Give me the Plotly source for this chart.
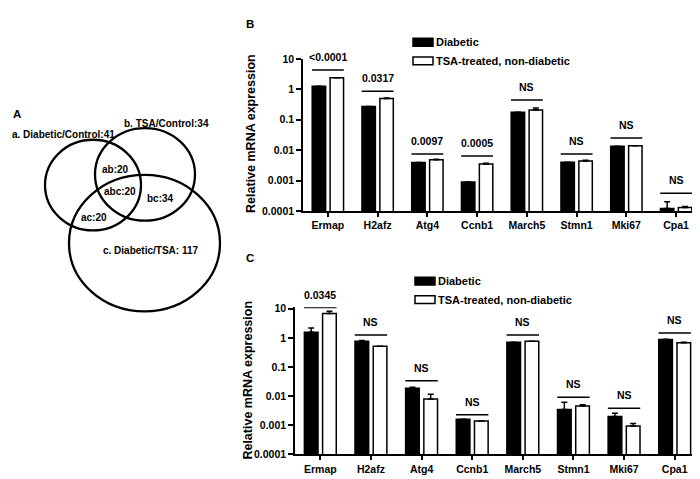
import numpy as np
import plotly.graph_objects as go

# ---------------- data ----------------
genes = ["Ermap", "H2afz", "Atg4", "Ccnb1", "March5", "Stmn1", "Mki67", "Cpa1"]
series_names = ["Diabetic", "TSA-treated, non-diabetic"]

b_diabetic = [1.25, 0.27, 0.0039, 0.0009, 0.175, 0.004, 0.0134, 0.00012]
b_diabetic_err = [0, 0, 0, 0, 0, 0, 0, 0.00008]
b_tsa = [2.4, 0.5, 0.0048, 0.0035, 0.21, 0.0044, 0.014, 0.00013]
b_tsa_err = [0, 0.02, 0.0002, 0.0002, 0.03, 0.0002, 0, 0.00001]
b_sig = ["<0.0001", "0.0317", "0.0097", "0.0005", "NS", "NS", "NS", "NS"]
b_sig_level = [4.3, 0.86, 0.0074, 0.0064, 0.44, 0.0074, 0.0248, 0.00038]

c_diabetic = [1.55, 0.77, 0.0186, 0.0016, 0.71, 0.0035, 0.002, 0.88]
c_diabetic_err = [0.65, 0.04, 0.0015, 0, 0, 0.0027, 0.0006, 0.02]
c_tsa = [6.9, 0.52, 0.0079, 0.0014, 0.77, 0.0046, 0.00095, 0.68]
c_tsa_err = [1.3, 0, 0.0038, 0, 0, 0.0005, 0.0002, 0.02]
c_sig = ["0.0345", "NS", "NS", "NS", "NS", "NS", "NS", "NS"]
c_sig_level = [11, 1.26, 0.034, 0.0023, 1.26, 0.0091, 0.0038, 1.47]

y_tickvals = [0.0001, 0.001, 0.01, 0.1, 1, 10]
y_ticktext = ["0.0001", "0.001", "0.01", "0.1", "1", "10"]

venn_sets = ["a. Diabetic/Control", "b. TSA/Control", "c. Diabetic/TSA"]
venn_set_counts = [41, 34, 117]
venn_regions = ["ab", "abc", "bc", "ac"]
venn_region_counts = [20, 20, 34, 20]

# ---------------- helpers ----------------
W, H = 700, 479
FONT = "Liberation Sans, Arial, sans-serif"


def px(x):
    return x / W


def py(y):
    return 1 - y / H


fig = go.Figure()
shapes = []
annotations = []

panels = [
    dict(xa="x", ya="y", d=b_diabetic, de=b_diabetic_err, t=b_tsa, te=b_tsa_err,
         sig=b_sig, lvl=b_sig_level),
    dict(xa="x2", ya="y2", d=c_diabetic, de=c_diabetic_err, t=c_tsa, te=c_tsa_err,
         sig=c_sig, lvl=c_sig_level),
]

xpos = list(range(len(genes)))
for p in panels:
    fig.add_trace(go.Bar(
        x=xpos, y=p["d"], name=series_names[0], xaxis=p["xa"], yaxis=p["ya"],
        marker=dict(color="black", line=dict(color="black", width=1.5)),
        error_y=dict(type="data", symmetric=False, array=p["de"],
                     arrayminus=[0] * len(genes), color="black", thickness=1.5, width=3),
        showlegend=False,
    ))
    fig.add_trace(go.Bar(
        x=xpos, y=p["t"], name=series_names[1], xaxis=p["xa"], yaxis=p["ya"],
        marker=dict(color="white", line=dict(color="black", width=1.5)),
        error_y=dict(type="data", symmetric=False, array=p["te"],
                     arrayminus=[0] * len(genes), color="black", thickness=1.5, width=3),
        showlegend=False,
    ))
    # significance lines and labels
    for i, g in enumerate(genes):
        lvl = p["lvl"][i]
        fig.add_trace(go.Scatter(
            x=[i - 0.32, i + 0.32], y=[lvl, lvl], mode="lines",
            line=dict(color="black", width=1.5), xaxis=p["xa"], yaxis=p["ya"],
            showlegend=False, hoverinfo="skip",
        ))
        annotations.append(dict(
            x=i, y=np.log10(lvl), xref=p["xa"], yref=p["ya"], text=p["sig"][i],
            showarrow=False, yanchor="bottom", yshift=5,
            font=dict(family=FONT, size=10.5, color="black", weight="bold"),
        ))

axis_common = dict(showline=True, linecolor="black", linewidth=1.5, ticks="outside",
                   tickwidth=1.5, tickcolor="black", showgrid=False, zeroline=False,
                   tickfont=dict(family=FONT, size=10.5, color="black", weight="bold"))

c_top = 1.05  # small headroom so the Ermap line in panel C stays visible
fig.update_layout(
    width=W, height=H, margin=dict(l=0, r=0, t=0, b=0),
    paper_bgcolor="white", plot_bgcolor="white",
    barmode="group", bargap=0.28, bargroupgap=0.25,
    font=dict(family=FONT, color="black"),
    xaxis=dict(domain=[px(295), px(693)], anchor="y", range=[-0.5, 7.5],
               tickvals=xpos, ticktext=genes, ticklen=4, **axis_common),
    yaxis=dict(domain=[py(202), py(46)], anchor="x", type="log", range=[-4, 1],
               tickvals=y_tickvals, ticktext=y_ticktext, ticklen=5, **axis_common),
    xaxis2=dict(domain=[px(287), px(692)], anchor="y2", range=[-0.5, 7.5],
                tickvals=xpos, ticktext=genes, ticklen=4, **axis_common),
    yaxis2=dict(domain=[py(451.7), py(302.3 - (c_top - 1) * 29.9)], anchor="x2",
                type="log", range=[-4, c_top],
                tickvals=y_tickvals, ticktext=y_ticktext, ticklen=5, **axis_common),
)

# y-axis titles
for (x, y) in [(243, 123), (240, 376)]:
    annotations.append(dict(
        x=px(x), y=py(y), xref="paper", yref="paper", text="Relative mRNA expression",
        textangle=-90, showarrow=False, xanchor="center", yanchor="middle",
        font=dict(family=FONT, size=12.5, color="black", weight="bold"),
    ))

# custom legends
for (lx, ly) in [(405, 25), (407, 270)]:
    for k, (fill, name) in enumerate(zip(["black", "white"], series_names)):
        y0 = ly + k * 19
        shapes.append(dict(type="rect", xref="paper", yref="paper",
                           x0=px(lx), x1=px(lx + 20), y0=py(y0 + 8), y1=py(y0),
                           fillcolor=fill, line=dict(color="black", width=1.5)))
        annotations.append(dict(
            x=px(lx + 21), y=py(y0 + 4), xref="paper", yref="paper", text=name,
            showarrow=False, xanchor="left", yanchor="middle",
            font=dict(family=FONT, size=11, color="black", weight="bold"),
        ))

# panel letters
for letter, (x, y) in zip(["A", "B", "C"], [(9, 103), (242, 10), (242, 250)]):
    annotations.append(dict(
        x=px(x), y=py(y), xref="paper", yref="paper", text=letter, showarrow=False,
        xanchor="center", yanchor="middle",
        font=dict(family=FONT, size=11.5, color="black", weight="bold"),
    ))

# Venn diagram
venn_circles = [(37, 129, 133, 222), (87, 117, 187, 212), (61, 165, 212, 305)]
for (x0, y0, x1, y1) in venn_circles:
    shapes.append(dict(type="circle", xref="paper", yref="paper",
                       x0=px(x0), x1=px(x1), y0=py(y1), y1=py(y0),
                       line=dict(color="black", width=2.3)))
set_pos = [(55, 124), (158, 112), (142, 243)]
set_sep = [":", ":", ": "]
for name, cnt, sep, (x, y) in zip(venn_sets, venn_set_counts, set_sep, set_pos):
    annotations.append(dict(
        x=px(x), y=py(y), xref="paper", yref="paper", text=f"{name}{sep}{cnt}",
        showarrow=False, xanchor="center", yanchor="middle",
        font=dict(family=FONT, size=10, color="black", weight="bold"),
    ))
region_pos = [(107, 159), (112, 182), (152, 189), (86, 209)]
for name, cnt, (x, y) in zip(venn_regions, venn_region_counts, region_pos):
    annotations.append(dict(
        x=px(x), y=py(y), xref="paper", yref="paper", text=f"{name}:{cnt}",
        showarrow=False, xanchor="center", yanchor="middle",
        font=dict(family=FONT, size=10, color="black", weight="bold"),
    ))

fig.update_layout(shapes=shapes, annotations=annotations)
fig.write_html("out.html")
